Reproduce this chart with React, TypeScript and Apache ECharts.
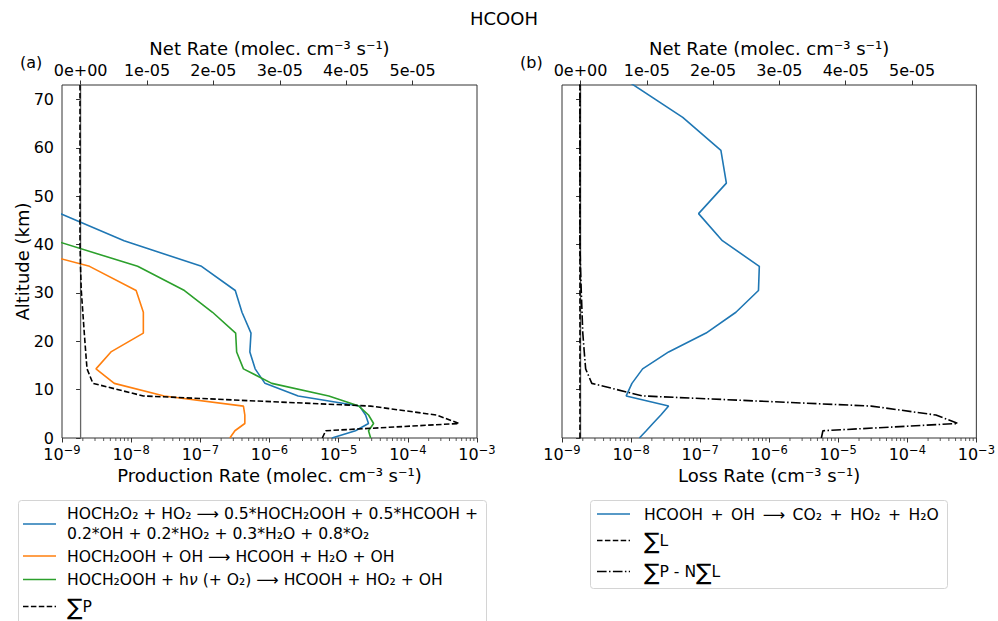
import React, { useEffect, useRef } from "react";
import * as echarts from "echarts";

// ---------------- data ----------------
const altitudeKm = [0, 1.5, 3.0, 4.75, 6.6, 8.7, 11.3, 14.3, 17.8, 21.7, 26.0, 30.5, 35.5, 40.8, 46.4, 52.7, 59.5, 66.3, 73.5];

// Panel (a): production rates (molec. cm^-3 s^-1)
const prodHOCH2O2_HO2 = [8.0e-6, 1.75e-5, 2.7e-5, 2.45e-5, 2.0e-5, 2.6e-6, 8.6e-7, 6.2e-7, 5.2e-7, 5.4e-7, 4.0e-7, 3.2e-7, 1.04e-7, 7.9e-9, 9.5e-10, 6e-11, 3e-12, 1e-12, 5e-13];
const prodHOCH2OOH_OH = [2.67e-7, 3.16e-7, 4.4e-7, 4.4e-7, 4.2e-7, 3.0e-8, 5.7e-9, 3.1e-9, 5.1e-9, 1.5e-8, 1.5e-8, 1.18e-8, 2.5e-9, 1e-10, 1e-11, 1e-12, 1e-13, 1e-13, 1e-13];
const prodHOCH2OOH_hv = [2.9e-5, 2.7e-5, 3.2e-5, 2.7e-5, 1.96e-5, 7.2e-6, 1.08e-6, 4.2e-7, 3.35e-7, 3.24e-7, 1.5e-7, 5.9e-8, 1.24e-8, 8e-10, 2e-11, 1e-12, 1e-13, 1e-13, 1e-13];
const sumProduction = [5.8e-6, 6.5e-6, 5.5e-4, 2.6e-4, 2.9e-5, 1.5e-8, 2.8e-9, 2.3e-9, 2.2e-9, 2.1e-9, 2.0e-9, 1.9e-9, 1.85e-9, 1.82e-9, 1.82e-9, 1.82e-9, 1.82e-9, 1.82e-9, 1.82e-9];
const netRateA = [0, 0, 0, 0, 0, 0, 0, 0, 0, 0, 0, 0, 0, 0, 0, 0, 0, 0, 0];

// Panel (b): loss rates
const lossHCOOH_OH = [1.32e-8, 1.66e-8, 2.07e-8, 2.7e-8, 3.5e-8, 8.5e-9, 1.03e-8, 1.47e-8, 3.5e-8, 1.22e-7, 3.3e-7, 7.0e-7, 7.2e-7, 2.1e-7, 9.5e-8, 2.4e-7, 2.0e-7, 5.6e-8, 9.6e-9];
const sumLoss = [1.82e-9, 1.82e-9, 1.82e-9, 1.82e-9, 1.82e-9, 1.82e-9, 1.82e-9, 1.82e-9, 1.82e-9, 1.82e-9, 1.82e-9, 1.82e-9, 1.82e-9, 1.82e-9, 1.82e-9, 1.82e-9, 1.82e-9, 1.82e-9, 1.82e-9];
const sumPminusNsumL = [5.7e-6, 6.0e-6, 5.4e-4, 2.6e-4, 3.0e-5, 1.47e-8, 2.7e-9, 2.2e-9, 2.1e-9, 2.0e-9, 1.95e-9, 1.9e-9, 1.85e-9, 1.82e-9, 1.82e-9, 1.82e-9, 1.82e-9, 1.82e-9, 1.82e-9];
const netRateB = [0, 0, 0, 0, 0, 0, 0, 0, 0, 0, 0, 0, 0, 0, 0, 0, 0, 0, 0];

// ticks
const netTicks = [0, 1e-5, 2e-5, 3e-5, 4e-5, 5e-5];
const altTicks = [0, 10, 20, 30, 40, 50, 60, 70];
const minorMantissas = [2, 3, 4, 5, 6, 7, 8, 9];
const minorDecades = [-9, -8, -7, -6, -5, -4];

// legend labels
const legendA = [
  ["HOCH₂O₂ + HO₂ ⟶ 0.5*HOCH₂OOH + 0.5*HCOOH +", "0.2*OH + 0.2*HO₂ + 0.3*H₂O + 0.8*O₂"],
  ["HOCH₂OOH + OH ⟶ HCOOH + H₂O + OH"],
  ["HOCH₂OOH + h{nu|ν} (+ O₂) ⟶ HCOOH + HO₂ + OH"],
  ["{s|∑}P"],
];
const legendB = [["HCOOH \u2006+\u2006 OH \u2006⟶\u2006 CO₂ \u2006+\u2006 HO₂ \u2006+\u2006 H₂O"], ["{s|∑}L"], ["{s|∑}P - N{s|∑}L"]];

// ---------------- helpers ----------------
const FONT = "DejaVu Sans";
const C_BLUE = "#1f77b4";
const C_ORANGE = "#ff7f0e";
const C_GREEN = "#2ca02c";
const AX = "#333333";
const DASH = [5.5, 2.4];
const DASHDOT = [9.6, 2.4, 1.5, 2.4];

const logLabel = (v: number) => {
  const e = Math.round(Math.log10(v));
  return "{b|10}{s|" + (e < 0 ? "\u2212" : "") + String(Math.abs(e)) + "}";
};
const sciLabel = (v: number) => {
  if (Math.abs(v) < 1e-12) return "0e+00";
  const [m, e] = v.toExponential(0).split("e");
  const n = parseInt(e, 10);
  return m + "e" + (n < 0 ? "-" : "+") + String(Math.abs(n)).padStart(2, "0");
};
const pairs = (vals: number[]) => vals.map((v, i) => [v, altitudeKm[i]]);
const minorTicks: number[] = [];
minorDecades.forEach((d) => minorMantissas.forEach((m) => minorTicks.push(m * Math.pow(10, d))));

const GRID_TOP = 85;
const GRID_H = 353;
const grids = [
  { left: 62, top: GRID_TOP, width: 415, height: GRID_H },
  { left: 562, top: GRID_TOP, width: 416, height: GRID_H },
];

function logAxis(gridIndex: number, name: string) {
  return {
    type: "log",
    logBase: 10,
    gridIndex,
    position: "bottom",
    min: 1e-9,
    max: 1e-3,
    name,
    nameLocation: "middle",
    nameGap: 27,
    nameTextStyle: { fontFamily: FONT, fontSize: 18, color: "#000" },
    axisLine: { show: false },
    axisTick: { show: true, length: 4.5, lineStyle: { color: AX, width: 1 } },
    axisLabel: {
      fontFamily: FONT,
      fontSize: 16,
      color: "#000",
      margin: 6,
      formatter: logLabel,
      rich: {
        b: { fontFamily: FONT, fontSize: 16, color: "#000", lineHeight: 18, verticalAlign: "bottom" },
        s: { fontFamily: FONT, fontSize: 11.5, color: "#000", lineHeight: 10, verticalAlign: "top" },
      },
    },
    splitLine: { show: false },
    minorTick: { show: false },
  };
}
function netAxis(gridIndex: number) {
  return {
    type: "value",
    gridIndex,
    position: "top",
    min: -2.8e-6,
    max: 5.97e-5,
    name: "Net Rate (molec. cm⁻³ s⁻¹)",
    nameLocation: "middle",
    nameGap: 28,
    nameMoveOverlap: false,
    nameTextStyle: { fontFamily: FONT, fontSize: 18, lineHeight: 18, color: "#000" },
    axisLine: { show: false },
    axisTick: { show: true, length: 4.5, customValues: netTicks, lineStyle: { color: AX, width: 1 } },
    axisLabel: { fontFamily: FONT, fontSize: 16, lineHeight: 14, color: "#000", margin: 8, customValues: netTicks, formatter: sciLabel },
    splitLine: { show: false },
  };
}
function altAxis(gridIndex: number, showLabels: boolean) {
  return {
    type: "value",
    gridIndex,
    position: "left",
    min: 0,
    max: 73,
    name: showLabels ? "Altitude (km)" : "",
    nameLocation: "middle",
    nameGap: 31,
    nameMoveOverlap: false,
    nameTextStyle: { fontFamily: FONT, fontSize: 18, color: "#000" },
    axisLine: { show: false },
    axisTick: { show: true, length: 4.5, customValues: altTicks, lineStyle: { color: AX, width: 1 } },
    axisLabel: { show: showLabels, fontFamily: FONT, fontSize: 16, lineHeight: 12, color: "#000", margin: 8, customValues: altTicks },
    splitLine: { show: false },
  };
}

function lineSeries(name: string, vals: number[], xAxisIndex: number, yAxisIndex: number, color: string, dash?: number[], width = 1.6) {
  return {
    type: "line",
    name,
    xAxisIndex,
    yAxisIndex,
    data: pairs(vals),
    showSymbol: false,
    symbol: "none",
    clip: true,
    silent: true,
    lineStyle: { color, width, type: dash ? dash : "solid" },
  };
}
function minorTickSeries(xAxisIndex: number, yAxisIndex: number) {
  return {
    type: "scatter",
    name: "minor" + xAxisIndex,
    xAxisIndex,
    yAxisIndex,
    data: minorTicks.map((v) => [v, 0]),
    symbol: "rect",
    symbolSize: [1, 3],
    symbolOffset: [0, 1.5],
    clip: false,
    silent: true,
    itemStyle: { color: AX },
  };
}

function legendGraphic(x0: number, y0: number, w: number, h: number, iconX: number, textX: number, fontSize: number, rows: { color: string; dash?: number[]; lines: string[]; ys: number[]; iconY: number }[]) {
  const children: any[] = [
    { type: "rect", shape: { x: x0, y: y0, width: w, height: h, r: 3 }, style: { fill: "#fff", stroke: "#d4d4d4", lineWidth: 1 } },
  ];
  rows.forEach((r) => {
    children.push({
      type: "line",
      shape: { x1: iconX, y1: r.iconY, x2: iconX + 33, y2: r.iconY },
      style: { stroke: r.color, lineWidth: 1.6, lineDash: r.dash ?? null },
    });
    r.lines.forEach((t, i) => {
      children.push({
        type: "text",
        x: textX,
        y: r.ys[i],
        style: {
          text: t,
          fontFamily: FONT,
          fontSize,
          fill: "#000",
          align: "left",
          verticalAlign: "middle",
          textAlign: "left",
          textVerticalAlign: "middle",
          rich: {
            s: { fontFamily: FONT, fontSize: 23, fill: "#000" },
            nu: { fontFamily: FONT, fontSize, fontStyle: "italic", fill: "#000" },
          },
        },
      });
    });
  });
  return { type: "group", z: 20, children };
}

export default function App() {
  const ref = useRef<HTMLDivElement>(null);
  useEffect(() => {
    if (!ref.current) return;
    const chart = echarts.init(ref.current, undefined, { renderer: "svg" });
    const option: any = {
      animation: false,
      backgroundColor: "#ffffff",
      textStyle: { fontFamily: FONT },
      grid: grids.map((g) => ({ ...g, show: true, borderColor: AX, borderWidth: 1, backgroundColor: "transparent", containLabel: false })),
      xAxis: [
        logAxis(0, "Production Rate (molec. cm⁻³ s⁻¹)"),
        netAxis(0),
        logAxis(1, "Loss Rate (cm⁻³ s⁻¹)"),
        netAxis(1),
      ],
      yAxis: [altAxis(0, true), altAxis(1, false)],
      series: [
        lineSeries("Net rate (a)", netRateA, 1, 0, "#666666", undefined, 1.3),
        lineSeries("HOCH₂O₂ + HO₂ ⟶ 0.5*HOCH₂OOH + 0.5*HCOOH + 0.2*OH + 0.2*HO₂ + 0.3*H₂O + 0.8*O₂", prodHOCH2O2_HO2, 0, 0, C_BLUE),
        lineSeries("HOCH₂OOH + OH ⟶ HCOOH + H₂O + OH", prodHOCH2OOH_OH, 0, 0, C_ORANGE),
        lineSeries("HOCH₂OOH + hν (+ O₂) ⟶ HCOOH + HO₂ + OH", prodHOCH2OOH_hv, 0, 0, C_GREEN),
        lineSeries("∑P", sumProduction, 0, 0, "#000000", DASH),
        minorTickSeries(0, 0),
        lineSeries("Net rate (b)", netRateB, 3, 1, "#666666", undefined, 1.3),
        lineSeries("HCOOH + OH ⟶ CO₂ + HO₂ + H₂O", lossHCOOH_OH, 2, 1, C_BLUE),
        lineSeries("∑L", sumLoss, 2, 1, "#000000", DASH),
        lineSeries("∑P - N∑L", sumPminusNsumL, 2, 1, "#000000", DASHDOT),
        minorTickSeries(2, 1),
      ],
      graphic: [
        { type: "text", x: 504, y: 18, style: { text: "HCOOH", fontFamily: FONT, fontSize: 18, fill: "#000", align: "center", verticalAlign: "middle", textAlign: "center", textVerticalAlign: "middle" } },
        { type: "text", x: 20, y: 62, style: { text: "(a)", fontFamily: FONT, fontSize: 16, fill: "#000", align: "left", verticalAlign: "middle", textAlign: "left", textVerticalAlign: "middle" } },
        { type: "text", x: 520, y: 62, style: { text: "(b)", fontFamily: FONT, fontSize: 16, fill: "#000", align: "left", verticalAlign: "middle", textAlign: "left", textVerticalAlign: "middle" } },
        legendGraphic(18.5, 500.5, 468, 140, 23, 67, 15.6, [
          { color: C_BLUE, lines: legendA[0], ys: [514, 534], iconY: 524 },
          { color: C_ORANGE, lines: legendA[1], ys: [557], iconY: 556 },
          { color: C_GREEN, lines: legendA[2], ys: [580], iconY: 579.5 },
          { color: "#000", dash: DASH, lines: legendA[3], ys: [607], iconY: 606.5 },
        ]),
        legendGraphic(590.5, 500.5, 357, 88, 597, 644, 15.6, [
          { color: C_BLUE, lines: legendB[0], ys: [514.5], iconY: 514 },
          { color: "#000", dash: DASH, lines: legendB[1], ys: [541], iconY: 540.5 },
          { color: "#000", dash: DASHDOT, lines: legendB[2], ys: [572], iconY: 571.5 },
        ]),
      ],
    };
    chart.setOption(option);
    return () => chart.dispose();
  }, []);
  return <div ref={ref} style={{ position: "fixed", left: 0, top: 0, width: 998, height: 621 }} />;
}
